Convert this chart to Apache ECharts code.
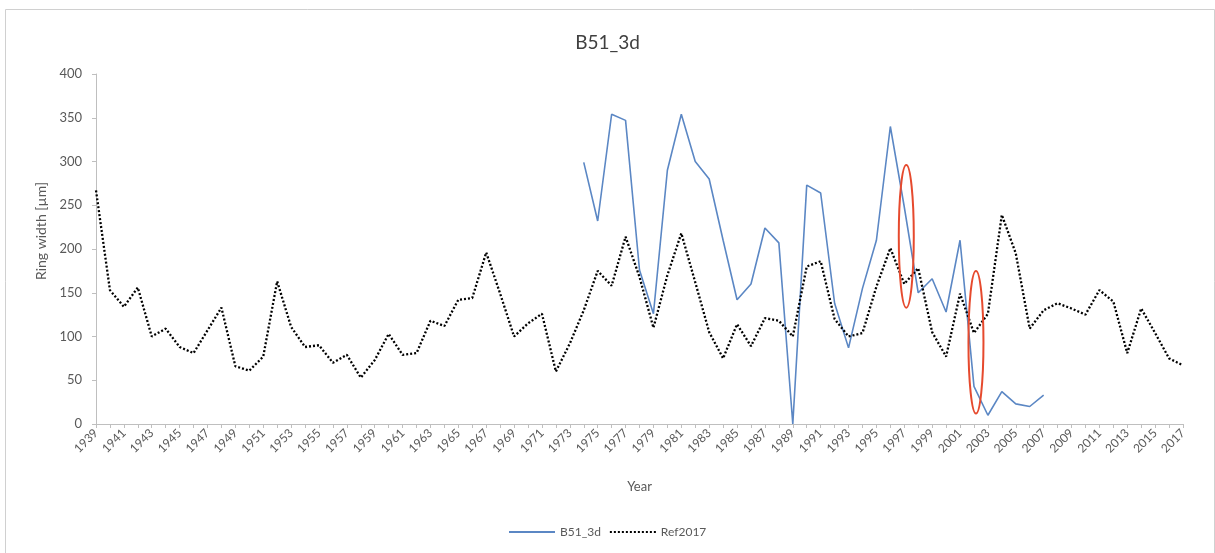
<!DOCTYPE html>
<html><head><meta charset="utf-8">
<script src="https://cdn.jsdelivr.net/npm/echarts@6/dist/echarts.min.js"></script>
<style>html,body{margin:0;padding:0;background:#fff}#c{width:1215px;height:553px}</style>
</head><body><div id="c"></div>
<script>
const years = ['1939','1940','1941','1942','1943','1944','1945','1946','1947','1948','1949','1950','1951','1952','1953','1954','1955','1956','1957','1958','1959','1960','1961','1962','1963','1964','1965','1966','1967','1968','1969','1970','1971','1972','1973','1974','1975','1976','1977','1978','1979','1980','1981','1982','1983','1984','1985','1986','1987','1988','1989','1990','1991','1992','1993','1994','1995','1996','1997','1998','1999','2000','2001','2002','2003','2004','2005','2006','2007','2008','2009','2010','2011','2012','2013','2014','2015','2016','2017'];

const ref2017 = [267,153,134,156,100,109,88,81,107,133,66,61,77,163,111,88,90,70,79,53,73,103,79,81,118,112,142,144,196,149,100,115,126,60,92,130,175,158,214,168,110,170,218,162,105,75,114,89,121,118,100,180,186,120,100,104,157,201,160,178,105,77,149,104,126,239,195,109,130,138,132,125,153,140,81,132,104,75,67];

const b51_3d = [null,null,null,null,null,null,null,null,null,null,null,null,null,null,null,null,null,null,null,null,null,null,null,null,null,null,null,null,null,null,null,null,null,null,null,
 299,232,354,347,176,126,290,354,300,280,210,142,160,224,207,0,273,264,138,87,155,210,340,248,150,166,128,210,43,10,37,23,20,33,
 null,null,null,null,null,null,null,null,null,null];

// annotation ellipses: [year, low value, high value]
const ellipseYears = ['1997','2002'];
const ellipseLow = [133,12];
const ellipseHigh = [296,175];

const FONT = 'Lato, "Open Sans", sans-serif';
const chart = echarts.init(document.getElementById('c'));
chart.setOption({
  animation:false,
  backgroundColor:'#fff',
  title:{text:'B51_3d',left:'center',top:28,textStyle:{fontFamily:FONT,fontSize:19,fontWeight:'normal',color:'#404040'}},
  legend:{bottom:10,left:503,itemWidth:46,itemHeight:10,itemGap:8,
    itemStyle:{opacity:0},
    textStyle:{fontFamily:FONT,fontSize:12,color:'#595959'},
    data:['B51_3d','Ref2017']},
  grid:{left:96,right:32,top:74,bottom:129,containLabel:false},
  xAxis:{type:'category',data:years,boundaryGap:false,
    name:'Year',nameLocation:'middle',nameGap:56,
    nameTextStyle:{fontFamily:FONT,fontSize:13,color:'#595959'},
    axisLine:{lineStyle:{color:'#bfbfbf',width:1}},
    axisTick:{show:true,interval:0,length:4,lineStyle:{color:'#bfbfbf'}},
    axisLabel:{interval:1,rotate:45,fontFamily:FONT,fontSize:12,color:'#595959',margin:7},
    splitLine:{show:false}},
  yAxis:{type:'value',min:0,max:400,interval:50,
    name:'Ring width [µm]',nameLocation:'middle',nameGap:44,
    nameTextStyle:{fontFamily:FONT,fontSize:14,color:'#595959',padding:[0,0,0,36]},
    axisLine:{show:true,lineStyle:{color:'#bfbfbf',width:1}},
    axisTick:{show:true,length:4,lineStyle:{color:'#bfbfbf'}},
    axisLabel:{fontFamily:FONT,fontSize:13,color:'#595959',margin:14},
    splitLine:{show:false}},
  series:[
    {name:'B51_3d',type:'line',data:b51_3d,symbol:'none',connectNulls:false,
      lineStyle:{color:'#5b87c4',width:1.6},itemStyle:{color:'#5b87c4'},z:2},
    {name:'Ref2017',type:'line',data:ref2017,symbol:'none',
      lineStyle:{color:'#000',width:2.3,type:[2,2]},itemStyle:{color:'#000'},z:3}
  ]
});

const gfx = [{type:'rect',left:3,top:7,shape:{width:1209,height:560},style:{fill:'none',stroke:'#d0d0d0',lineWidth:1},silent:true,z:0}];
ellipseYears.forEach((yr,i)=>{
  const top = chart.convertToPixel({xAxisIndex:0,yAxisIndex:0},[yr, ellipseHigh[i]]);
  const bot = chart.convertToPixel({xAxisIndex:0,yAxisIndex:0},[yr, ellipseLow[i]]);
  gfx.push({type:'ellipse',shape:{cx:top[0]+2,cy:(top[1]+bot[1])/2,rx:7.5,ry:(bot[1]-top[1])/2},
    style:{fill:'none',stroke:'#e64a2e',lineWidth:2},z:100,silent:true});
});
chart.setOption({graphic:gfx});
</script>
</body></html>
